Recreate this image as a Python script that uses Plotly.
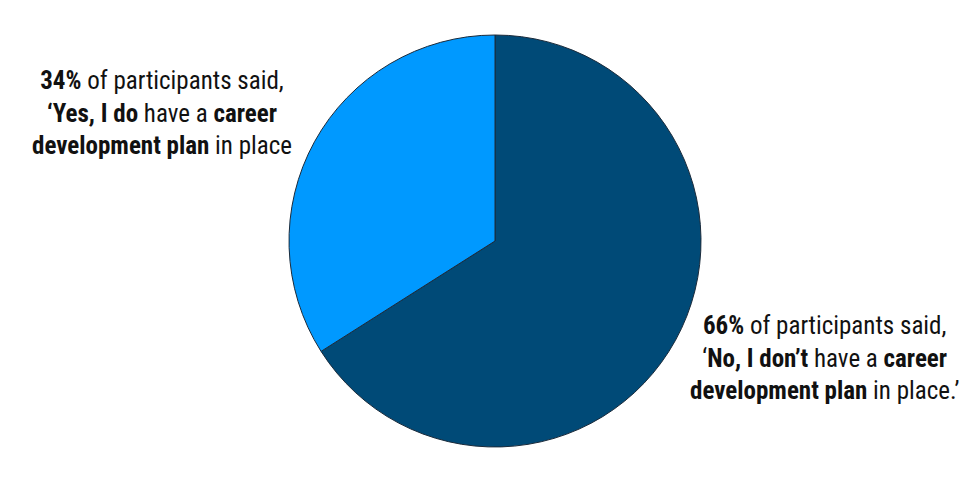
import plotly.graph_objects as go

labels = ["No, I don't have a career development plan", "Yes, I do have a career development plan"]
values = [66, 34]
colors = ["#004a77", "#0099ff"]

note_yes = "<b>34%</b> of participants said,<br><b>‘Yes, I do</b> have a <b>career</b><br><b>development plan</b> in place"
note_no = "<b>66%</b> of participants said,<br>‘<b>No, I don’t</b> have a <b>career</b><br><b>development plan</b> in place.’"

W, H = 980, 482
cx, cy, r = 495, 241, 206

fig = go.Figure(go.Pie(
    labels=labels, values=values, sort=False, direction="clockwise", rotation=0,
    marker=dict(colors=colors, line=dict(color="#1b2b3b", width=1)),
    textinfo="none", hoverinfo="label+percent",
    domain=dict(x=[(cx - r) / W, (cx + r) / W], y=[(H - cy - r) / H, (H - cy + r) / H]),
))

font = dict(family="Liberation Sans Narrow, Roboto Condensed, Roboto, sans-serif", size=25, color="#111111")
fig.add_annotation(x=162 / W, y=1 - 113 / H, xref="paper", yref="paper", text=note_yes,
                   showarrow=False, align="center", font=font, xanchor="center", yanchor="middle")
fig.add_annotation(x=824 / W, y=1 - 358 / H, xref="paper", yref="paper", text=note_no,
                   showarrow=False, align="center", font=font, xanchor="center", yanchor="middle")

fig.update_layout(width=W, height=H, margin=dict(l=0, r=0, t=0, b=0),
                  showlegend=False, paper_bgcolor="white", plot_bgcolor="white")
fig.write_html("out.html", config={"displayModeBar": False},
               post_script="document.body.style.margin='0';")
